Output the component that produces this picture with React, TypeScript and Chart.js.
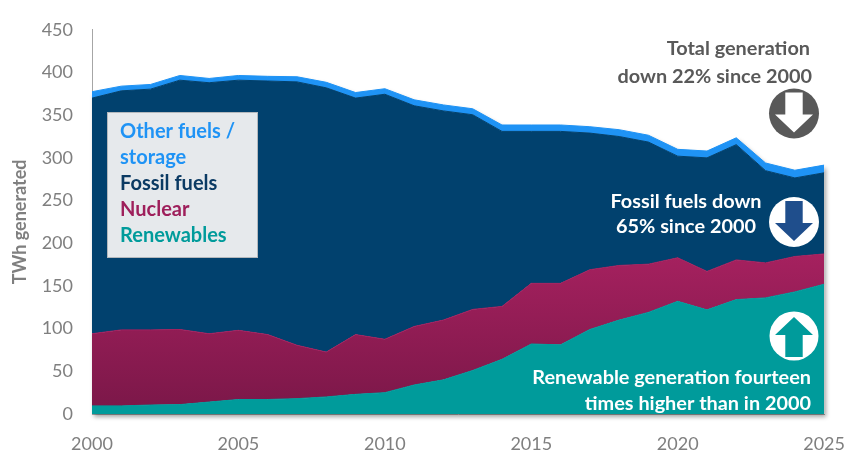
import React, { useEffect, useRef } from "react";
import { Chart, registerables } from "chart.js";

Chart.register(...registerables);

const years = [
  2000, 2001, 2002, 2003, 2004, 2005, 2006, 2007, 2008, 2009, 2010, 2011, 2012,
  2013, 2014, 2015, 2016, 2017, 2018, 2019, 2020, 2021, 2022, 2023, 2024, 2025,
];

// TWh generated
const renewables = [
  9.5, 9.5, 10.5, 11, 14, 17, 17, 18, 20, 23, 25, 34, 40, 51, 64, 82, 81, 99,
  110, 119, 132, 122, 134, 136, 143, 152,
];
const nuclear = [
  84.5, 89, 88, 88, 80, 81, 76, 62.5, 52.5, 70, 62.5, 68.5, 70, 71.5, 62, 71,
  72, 70, 64, 56.5, 51, 45, 46.5, 41, 41.5, 35.5,
];
const fossil = [
  276, 280, 282, 292, 294, 293, 297, 308.5, 309.5, 277, 287, 258.5, 245, 228,
  205, 178, 178, 160, 151, 143, 119, 133, 135, 108, 92, 95,
];
const otherFuels = [
  7.5, 5.5, 5.5, 5.5, 5, 5.5, 5.5, 6, 6.5, 6.5, 6.5, 7, 7, 7, 7.5, 7.5, 7.5,
  7.5, 8, 8, 8, 8, 8, 9, 9, 9,
];

const yTicks = { min: 0, max: 450, step: 50 };

const legendLines = [
  { text: "Other fuels /", color: "#1F93F5" },
  { text: "storage", color: "#1F93F5" },
  { text: "Fossil fuels", color: "#0B3A63" },
  { text: "Nuclear", color: "#9E1F5B" },
  { text: "Renewables", color: "#009B9B" },
];

const FONT = "Lato, 'Open Sans', sans-serif";
const TEAL = "#009B9B";
const NAVY = "#01416E";
const BLUE = "#1F93F5";

function fitSize(ctx: CanvasRenderingContext2D, items: [string, number][]) {
  let sum = 0;
  items.forEach(([t, w]) => {
    ctx.font = `bold 20px ${FONT}`;
    sum += (20 * w) / ctx.measureText(t).width;
  });
  return sum / items.length;
}

function arrow(
  ctx: CanvasRenderingContext2D,
  cx: number,
  cy: number,
  dir: 1 | -1,
  color: string
) {
  const sh = 8.7;
  const hh = 19;
  const tail = -21 * dir;
  const base = 1 * dir;
  const tip = 19 * dir;
  ctx.beginPath();
  ctx.moveTo(cx - sh, cy + tail);
  ctx.lineTo(cx + sh, cy + tail);
  ctx.lineTo(cx + sh, cy + base);
  ctx.lineTo(cx + hh, cy + base);
  ctx.lineTo(cx, cy + tip);
  ctx.lineTo(cx - hh, cy + base);
  ctx.lineTo(cx - sh, cy + base);
  ctx.closePath();
  ctx.fillStyle = color;
  ctx.fill();
}

function circle(ctx: CanvasRenderingContext2D, cx: number, cy: number, r: number, color: string) {
  ctx.beginPath();
  ctx.arc(cx, cy, r, 0, Math.PI * 2);
  ctx.fillStyle = color;
  ctx.fill();
}

const shadowPlugin = {
  id: "areaShadow",
  beforeDatasetsDraw(chart: any) {
    const meta = chart.getDatasetMeta(3);
    const area = chart.chartArea;
    if (!meta?.data?.length) return;
    const ctx = chart.ctx;
    ctx.save();
    ctx.beginPath();
    meta.data.forEach((p: any, i: number) =>
      i === 0 ? ctx.moveTo(p.x, p.y) : ctx.lineTo(p.x, p.y)
    );
    ctx.lineTo(area.right, area.bottom);
    ctx.lineTo(area.left, area.bottom);
    ctx.closePath();
    ctx.shadowColor = "rgba(0,0,0,0.35)";
    ctx.shadowBlur = 4;
    ctx.shadowOffsetX = 2;
    ctx.shadowOffsetY = 3;
    ctx.fillStyle = "#ffffff";
    ctx.fill();
    ctx.restore();
  },
};

const annotationPlugin = {
  id: "annotations",
  afterDraw(chart: any) {
    const ctx: CanvasRenderingContext2D = chart.ctx;
    ctx.save();

    // legend box
    ctx.fillStyle = "#E6E9EC";
    ctx.fillRect(107, 112, 150, 145);
    ctx.strokeStyle = "#B4B8BC";
    ctx.lineWidth = 1;
    ctx.strokeRect(107.5, 112.5, 150, 145);
    const legSize = fitSize(ctx, [
      ["Other fuels /", 115],
      ["Fossil fuels", 97],
      ["Nuclear", 69],
      ["Renewables", 108],
    ]);
    ctx.font = `bold ${legSize}px ${FONT}`;
    ctx.textBaseline = "middle";
    ctx.textAlign = "left";
    legendLines.forEach((l, i) => {
      ctx.fillStyle = l.color;
      ctx.fillText(l.text, 120, 132 + i * 26);
    });

    const noteSize = fitSize(ctx, [
      ["Renewable generation fourteen", 283],
      ["times higher than in 2000", 226],
      ["down 22% since 2000", 191],
      ["Fossil fuels down", 152],
    ]);
    ctx.font = `bold ${noteSize}px ${FONT}`;

    // total generation
    ctx.fillStyle = "#595959";
    ctx.textAlign = "right";
    ctx.fillText("Total generation", 810, 49);
    ctx.fillText("down 22% since 2000", 812, 77);
    circle(ctx, 794, 113.5, 25, "#595959");
    arrow(ctx, 794, 113.5, 1, "#ffffff");

    // fossil fuels
    ctx.fillStyle = "#ffffff";
    ctx.textAlign = "center";
    ctx.fillText("Fossil fuels down", 686, 202);
    ctx.fillText("65% since 2000", 686, 227);
    circle(ctx, 794, 222, 25, "#ffffff");
    arrow(ctx, 794, 222, 1, "#1F4E8C");

    // renewables
    ctx.textAlign = "right";
    ctx.fillStyle = "#ffffff";
    ctx.fillText("Renewable generation fourteen", 811, 378);
    ctx.fillText("times higher than in 2000", 811, 404);
    circle(ctx, 794, 336, 24.5, "#ffffff");
    arrow(ctx, 794, 336, -1, TEAL);

    ctx.restore();
  },
};

export default function App() {
  const canvasRef = useRef<HTMLCanvasElement | null>(null);

  useEffect(() => {
    if (!canvasRef.current) return;

    const nuclearFill = (c: any) => {
      const chart = c.chart;
      const area = chart.chartArea;
      if (!area) return "#8E1B53";
      const g = chart.ctx.createLinearGradient(0, chart.scales.y.getPixelForValue(190), 0, area.bottom);
      g.addColorStop(0, "#A6215F");
      g.addColorStop(1, "#7A1748");
      return g;
    };

    const chart = new Chart(canvasRef.current, {
      type: "line",
      data: {
        labels: years.map(String),
        datasets: [
          { label: "Renewables", data: renewables, backgroundColor: TEAL, borderColor: TEAL, fill: "origin" },
          { label: "Nuclear", data: nuclear, backgroundColor: nuclearFill, borderColor: "#A3205E", fill: "-1" },
          { label: "Fossil fuels", data: fossil, backgroundColor: NAVY, borderColor: NAVY, fill: "-1" },
          { label: "Other fuels / storage", data: otherFuels, backgroundColor: BLUE, borderColor: BLUE, fill: "-1" },
        ],
      },
      options: {
        animation: false,
        responsive: false,
        maintainAspectRatio: false,
        layout: { padding: { top: 28, right: 36, left: 0, bottom: 0 } },
        elements: {
          point: { radius: 0 },
          line: { tension: 0, borderWidth: 1 },
        },
        plugins: { legend: { display: false }, tooltip: { enabled: false } },
        scales: {
          x: {
            grid: { display: false, drawTicks: false },
            border: { display: true, color: "#A6A6A6" },
            ticks: {
              autoSkip: false,
              maxRotation: 0,
              minRotation: 0,
              padding: 19,
              color: "#7F7F7F",
              font: { family: FONT, size: 18 },
              callback: (_v: any, i: number) => (years[i] % 5 === 0 ? String(years[i]) : ""),
            },
            afterFit: (s: any) => {
              s.height = 49;
            },
          },
          y: {
            stacked: true,
            min: yTicks.min,
            max: yTicks.max,
            grid: { display: false, drawTicks: false },
            border: { display: true, color: "#A6A6A6" },
            ticks: {
              stepSize: yTicks.step,
              padding: 19,
              color: "#7F7F7F",
              font: { family: FONT, size: 18 },
            },
            title: {
              display: true,
              text: "TWh generated",
              color: "#7F7F7F",
              font: { family: FONT, size: 18, weight: "bold" },
              padding: { top: 9, bottom: 0 },
            },
            afterFit: (s: any) => {
              s.width = 92;
            },
          },
        },
      },
      plugins: [shadowPlugin, annotationPlugin],
    });

    return () => chart.destroy();
  }, []);

  return (
    <div style={{ position: "fixed", left: 0, top: 0, width: 864, height: 463, background: "#fff" }}>
      <canvas ref={canvasRef} width={864} height={463} />
    </div>
  );
}
